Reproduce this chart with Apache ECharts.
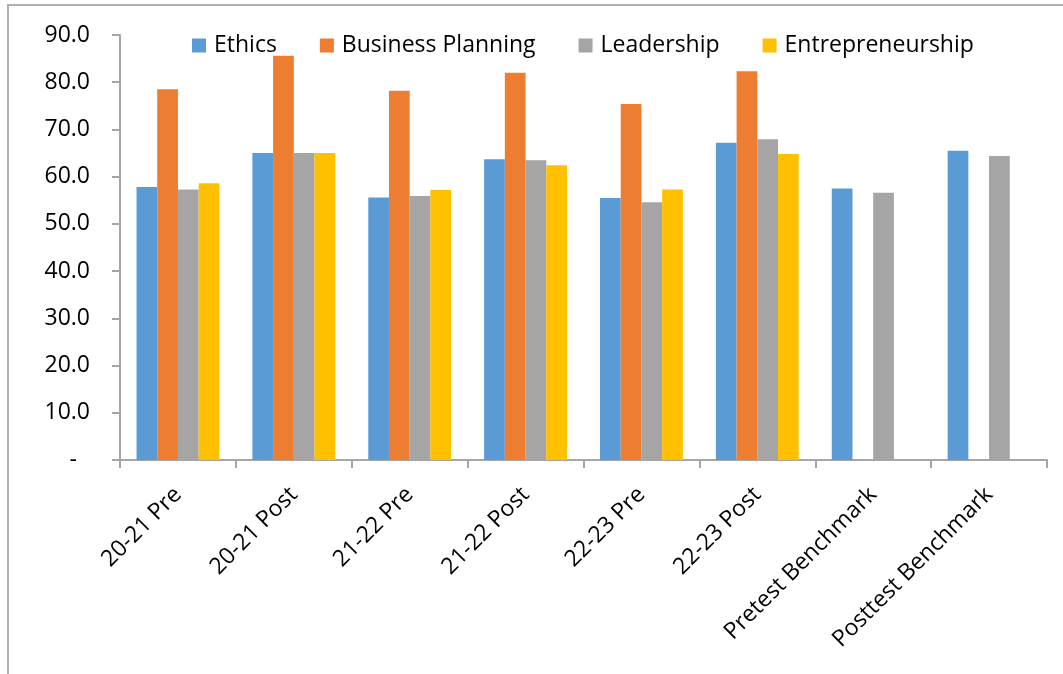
<!DOCTYPE html>
<html>
<head>
<meta charset="utf-8">
<script src="https://cdn.jsdelivr.net/npm/echarts@6/dist/echarts.min.js"></script>
<style>html,body{margin:0;padding:0;background:#fff;}#c{width:1063px;height:674px;}</style>
</head>
<body>
<div id="c"></div>
<script>
const categories = ['20-21 Pre','20-21 Post','21-22 Pre','21-22 Post','22-23 Pre','22-23 Post','Pretest Benchmark','Posttest Benchmark'];
const ethics = [57.8, 65.0, 55.6, 63.7, 55.5, 67.2, 57.5, 65.5];
const businessPlanning = [78.5, 85.6, 78.2, 82.0, 75.4, 82.3, null, null];
const leadership = [57.3, 65.0, 55.9, 63.5, 54.6, 67.9, 56.6, 64.4];
const entrepreneurship = [58.6, 65.0, 57.2, 62.4, 57.3, 64.8, null, null];
const seriesNames = ['Ethics','Business Planning','Leadership','Entrepreneurship'];
const colors = ['#5b9bd5','#ed7d31','#a5a5a5','#ffc000'];

const FONT = 'Open Sans';
const FS = 23;
const chart = echarts.init(document.getElementById('c'));
const mk = (name, data, color) => ({
  name, type: 'bar', data, barGap: 0, barCategoryGap: '28.5%',
  itemStyle: { color }
});
chart.setOption({
  animation: false,
  color: colors,
  textStyle: { fontFamily: FONT },
  grid: { left: 120, right: 16, top: 35, bottom: 214 },
  legend: {
    top: 29, left: 187,
    itemWidth: 14, itemHeight: 14, itemGap: 43,
    icon: 'rect',
    data: seriesNames,
    textStyle: { fontFamily: FONT, fontSize: FS, color: '#000', padding: [0, 0, 0, 3] }
  },
  xAxis: {
    type: 'category', data: categories,
    axisLine: { lineStyle: { color: '#a6a6a6', width: 2 } },
    axisTick: { show: true, length: 8, lineStyle: { color: '#a6a6a6', width: 2 } },
    axisLabel: { rotate: 45, interval: 0, fontSize: FS, color: '#000', fontFamily: FONT, margin: 31 }
  },
  yAxis: {
    type: 'value', min: 0, max: 90, interval: 10,
    splitLine: { show: false },
    axisLine: { show: true, lineStyle: { color: '#a6a6a6', width: 2 } },
    axisTick: { show: true, length: 8, lineStyle: { color: '#a6a6a6', width: 2 } },
    axisLabel: {
      fontSize: FS, color: '#000', fontFamily: FONT, margin: 30,
      formatter: v => v === 0 ? '{d|-}' : v.toFixed(1),
      rich: { d: { fontSize: FS, fontFamily: FONT, color: '#000', padding: [0, 13, 0, 0] } }
    }
  },
  graphic: [{
    type: 'polyline', silent: true,
    shape: { points: [[8, 674], [8, 5], [1063, 5]] },
    style: { stroke: '#b0b0b0', lineWidth: 2, fill: null }
  }],
  series: [
    mk(seriesNames[0], ethics, colors[0]),
    mk(seriesNames[1], businessPlanning, colors[1]),
    mk(seriesNames[2], leadership, colors[2]),
    mk(seriesNames[3], entrepreneurship, colors[3])
  ]
});
</script>
</body>
</html>
